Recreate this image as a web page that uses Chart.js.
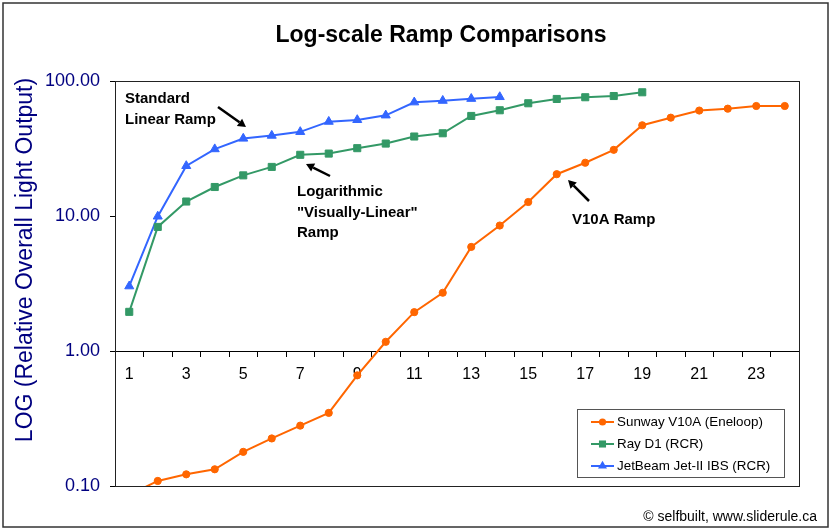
<!DOCTYPE html>
<html><head><meta charset="utf-8">
<style>html,body{margin:0;padding:0;background:#fff;}#wrap{position:relative;width:833px;height:530px;}</style>
<script src="https://cdn.jsdelivr.net/npm/chart.js@4.4.0/dist/chart.umd.min.js"></script>
</head><body><div id="wrap"><canvas id="c" width="833" height="530"></canvas></div>
<script>
const categories = ['1','2','3','4','5','6','7','8','9','10','11','12','13','14','15','16','17','18','19','20','21','22','23','24'];
const sunwayV10A = [0.086, 0.109, 0.122, 0.133, 0.179, 0.225, 0.28, 0.348, 0.66, 1.17, 1.94, 2.70, 5.9, 8.5, 12.7, 20.4, 24.8, 30.9, 47, 53.5, 60.4, 62.4, 65.3, 65.3];
const rayD1 = [1.95, 8.3, 12.8, 16.4, 20, 23.1, 28.4, 29, 31.8, 34.4, 38.8, 41, 55.1, 60.7, 68.4, 73.6, 75.8, 77.4, 82.5];
const jetBeam = [3.02, 9.93, 23.5, 31.3, 37.5, 39.4, 42, 50, 51.5, 55.7, 69.6, 71.5, 73.9, 76.2];
const yTickValues = [0.1, 1, 10, 100];
const seriesLabels = ['Sunway V10A (Eneloop)', 'Ray D1 (RCR)', 'JetBeam Jet-II IBS (RCR)'];
const titleText = 'Log-scale Ramp Comparisons';
const yTitleText = 'LOG (Relative Overall Light Output)';
const creditText = '\u00A9 selfbuilt, www.sliderule.ca';
const noteStandard = ['Standard', 'Linear Ramp'];
const noteLog = ['Logarithmic', '"Visually-Linear"', 'Ramp'];
const noteV10A = ['V10A Ramp'];

const FONT = '"Liberation Sans", Arial, Helvetica, sans-serif';
const COLORS = ['#FF6600', '#339966', '#3366FF'];
const STYLES = ['circle', 'rect', 'triangle'];
const RADII = [3.6, 5, 5.2];

function drawMarker(ctx, style, x, y, r, color) {
  ctx.save();
  ctx.fillStyle = color;
  ctx.beginPath();
  if (style === 'circle') {
    ctx.arc(x, y, r, 0, Math.PI * 2);
  } else if (style === 'rect') {
    const s = r * Math.SQRT1_2;
    ctx.rect(x - s, y - s, 2 * s, 2 * s);
  } else {
    ctx.moveTo(x, y - r);
    ctx.lineTo(x + r * 0.866, y + r * 0.5);
    ctx.lineTo(x - r * 0.866, y + r * 0.5);
    ctx.closePath();
  }
  ctx.fill();
  ctx.restore();
}

function arrow(ctx, x1, y1, x2, y2) {
  const ang = Math.atan2(y2 - y1, x2 - x1);
  const hl = 8, hw = 4.5;
  const bx = x2 - hl * Math.cos(ang), by = y2 - hl * Math.sin(ang);
  ctx.save();
  ctx.strokeStyle = '#000'; ctx.fillStyle = '#000'; ctx.lineWidth = 2.5;
  ctx.beginPath(); ctx.moveTo(x1, y1); ctx.lineTo(bx, by); ctx.stroke();
  ctx.beginPath();
  ctx.moveTo(x2, y2);
  ctx.lineTo(bx + hw * Math.sin(ang), by - hw * Math.cos(ang));
  ctx.lineTo(bx - hw * Math.sin(ang), by + hw * Math.cos(ang));
  ctx.closePath(); ctx.fill();
  ctx.restore();
}

const decor = {
  id: 'decor',
  beforeDraw(chart) {
    const ctx = chart.ctx;
    ctx.save();
    ctx.fillStyle = '#fff';
    ctx.fillRect(0, 0, chart.width, chart.height);
    ctx.strokeStyle = '#333'; ctx.lineWidth = 1.5;
    ctx.strokeRect(3, 3, 825, 524);
    ctx.restore();
  },
  afterDraw(chart) {
    const ctx = chart.ctx;
    const a = chart.chartArea;
    ctx.save();
    // plot frame
    ctx.strokeStyle = '#222'; ctx.lineWidth = 1;
    ctx.strokeRect(Math.round(a.left) + 0.5, Math.round(a.top) + 0.5, Math.round(a.right - a.left), Math.round(a.bottom - a.top));
    // title
    ctx.fillStyle = '#000';
    ctx.font = 'bold 23px ' + FONT;
    ctx.textAlign = 'center'; ctx.textBaseline = 'alphabetic';
    ctx.fillText(titleText, 441, 42);
    // y title
    ctx.save();
    ctx.translate(32, 260);
    ctx.rotate(-Math.PI / 2);
    ctx.fillStyle = '#000080';
    ctx.font = '23px ' + FONT;
    ctx.textAlign = 'center'; ctx.textBaseline = 'alphabetic';
    ctx.fillText(yTitleText, 0, 0);
    ctx.restore();
    // annotations
    ctx.fillStyle = '#000';
    ctx.font = 'bold 15px ' + FONT;
    ctx.textAlign = 'left'; ctx.textBaseline = 'alphabetic';
    noteStandard.forEach((t, i) => ctx.fillText(t, 125, 103 + i * 20.5));
    noteLog.forEach((t, i) => ctx.fillText(t, 297, 196 + i * 20.5));
    noteV10A.forEach((t, i) => ctx.fillText(t, 572, 224 + i * 20.5));
    arrow(ctx, 218, 107, 246, 127);
    arrow(ctx, 330, 176, 306, 164);
    arrow(ctx, 589, 201, 568, 180);
    // legend
    ctx.fillStyle = '#fff';
    ctx.fillRect(577.5, 409.5, 207, 68);
    ctx.strokeStyle = '#555'; ctx.lineWidth = 1;
    ctx.strokeRect(577.5, 409.5, 207, 68);
    ctx.font = '13.4px ' + FONT;
    ctx.textBaseline = 'middle';
    chart.data.datasets.forEach((ds, i) => {
      const y = 422 + i * 22;
      ctx.strokeStyle = ds.borderColor; ctx.lineWidth = 2;
      ctx.beginPath(); ctx.moveTo(591, y); ctx.lineTo(614, y); ctx.stroke();
      drawMarker(ctx, ds.pointStyle, 602.5, y, ds.pointRadius, ds.borderColor);
      ctx.fillStyle = '#000';
      ctx.fillText(ds.label, 617, y + 0.5);
    });
    // credit
    ctx.font = '14px ' + FONT;
    ctx.textAlign = 'right'; ctx.textBaseline = 'alphabetic';
    ctx.fillStyle = '#000';
    ctx.fillText(creditText, 817, 521);
    ctx.restore();
  }
};

const seriesData = [sunwayV10A, rayD1, jetBeam];
const datasets = seriesData.map((d, i) => ({
  label: seriesLabels[i],
  data: d,
  borderColor: COLORS[i],
  backgroundColor: COLORS[i],
  pointBackgroundColor: COLORS[i],
  pointBorderColor: COLORS[i],
  pointBorderWidth: 1,
  pointStyle: STYLES[i],
  pointRadius: RADII[i],
  pointHoverRadius: RADII[i],
  borderWidth: 2,
  tension: 0,
  fill: false
}));

new Chart(document.getElementById('c'), {
  type: 'line',
  data: { labels: categories, datasets },
  plugins: [decor],
  options: {
    responsive: false,
    animation: false,
    devicePixelRatio: 1,
    layout: { padding: { left: 0, top: 81, right: 34, bottom: 44 } },
    plugins: { legend: { display: false }, title: { display: false }, tooltip: { enabled: false } },
    scales: {
      x: {
        type: 'category',
        position: { y: 1 },
        offset: true,
        z: 1,
        grid: { display: true, offset: true, drawOnChartArea: false, drawTicks: true, tickLength: 5, color: '#000', lineWidth: 1 },
        border: { display: true, color: '#000', width: 1 },
        ticks: {
          autoSkip: false, maxRotation: 0, minRotation: 0, padding: 9,
          color: '#000', font: { family: FONT, size: 16 },
          callback: function (v, i) { return i % 2 === 0 ? this.getLabelForValue(v) : ''; }
        }
      },
      y: {
        type: 'logarithmic',
        min: 0.1, max: 100,
        afterFit: (s) => { s.width = 115; },
        afterBuildTicks: (s) => { s.ticks = yTickValues.map(v => ({ value: v })); },
        grid: { display: true, drawOnChartArea: false, drawTicks: true, tickLength: 5, color: '#000', lineWidth: 1 },
        border: { display: true, color: '#000', width: 1 },
        ticks: {
          padding: 10, color: '#000080', font: { family: FONT, size: 18 },
          callback: (v) => Number(v).toFixed(2)
        }
      }
    }
  }
});
</script></body></html>
